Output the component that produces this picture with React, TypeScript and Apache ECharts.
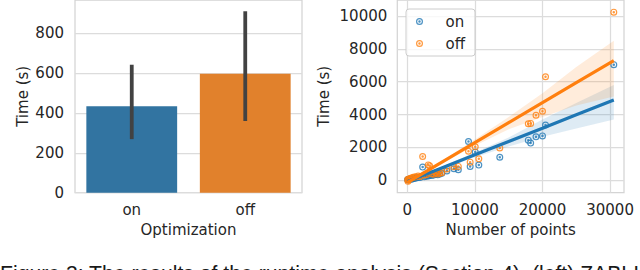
import React, { useEffect, useRef } from 'react';
import * as echarts from 'echarts';

// ---- left panel: bar chart ----
const categories = ['on', 'off'];
const meanTime = [433, 596];
const ciLow = [278, 369];
const ciHigh = [632, 900];
const barColors = ['#3274a1', '#e1812c'];
const leftYTicks = [0, 200, 400, 600, 800];

// ---- right panel: scatter with regression ----
const pointsX = [50, 100, 150, 250, 400, 600, 800, 1000, 1300, 1600, 1900, 2270, 2500, 2800, 3100, 3300, 3600, 3900, 4200, 4500, 4800, 5100, 5850, 6900, 7550, 9050, 9300, 10050, 10580, 13680, 17900, 18250, 19040, 20000, 20450, 30550];
const onTime = [20, 40, 30, 50, 70, 60, 90, 110, 130, 160, 170, 800, 210, 240, 260, 300, 280, 320, 350, 330, 380, 420, 560, 700, 640, 2360, 840, 1720, 920, 1400, 2440, 2260, 2640, 2700, 3360, 7040];
const offTime = [40, -60, 20, 80, 110, 130, 160, 190, 210, 260, 230, 1440, 310, 330, 930, 880, 400, 360, 440, 380, 420, 460, 680, 820, 840, 1760, 1100, 2040, 1300, 1960, 3440, 3460, 3960, 4200, 6300, 10240];

const fitX = [50, 5000, 10000, 15000, 20000, 25000, 30550];
const fitOn = [-72, 733, 1545, 2358, 3170, 3983, 4884];
const fitOnLow = [-180, 670, 1400, 2050, 2650, 3150, 3700];
const fitOnHigh = [30, 800, 1680, 2600, 3700, 4700, 5800];
const fitOff = [-138, 1068, 2285, 3503, 4720, 5938, 7290];
const fitOffLow = [-330, 980, 2100, 3100, 3850, 4550, 5100];
const fitOffHigh = [20, 1160, 2480, 3850, 5300, 6900, 8500];

const rightXTicks = [0, 10000, 20000, 30000];
const rightYTicks = [0, 2000, 4000, 6000, 8000, 10000];

const seriesNames = ['on', 'off'];
const seriesColors = ['#1f77b4', '#ff7f0e'];
const caption = 'Figure 3: The results of the runtime analysis (Section 4). (left) ZABLI';

const RING =
  'path://M0,-10A10,10,0,1,1,0,10A10,10,0,1,1,0,-10ZM0,-6.6A6.6,6.6,0,1,0,0,6.6A6.6,6.6,0,1,0,0,-6.6ZM0,-3.6A3.6,3.6,0,1,1,0,3.6A3.6,3.6,0,1,1,0,-3.6Z';

const FONT = 'DejaVu Sans';
const TXT = '#262626';
const GRIDC = '#dcdcdc';

function bandSeries(name: string, low: number[], high: number[], color: string) {
  return {
    type: 'custom',
    name: name + '-band',
    xAxisIndex: 1,
    yAxisIndex: 1,
    clip: true,
    silent: true,
    z: 1,
    data: fitX.map((x, i) => [x, low[i], high[i]]),
    encode: { x: 0, y: [1, 2] },
    renderItem: (params: any, api: any) => {
      if (params.dataIndex !== 0) return null;
      const up = fitX.map((x, i) => api.coord([x, high[i]]));
      const dn = fitX.map((x, i) => api.coord([x, low[i]])).reverse();
      return {
        type: 'polygon',
        shape: { points: up.concat(dn) },
        style: { fill: color, opacity: 0.15 },
      };
    },
  };
}

const plain = (v: number) => String(v);

export default function App() {
  const ref = useRef<HTMLDivElement>(null);
  useEffect(() => {
    if (!ref.current) return;
    const chart = echarts.init(ref.current, undefined, { renderer: 'svg' });
    const labelStyle = { color: TXT, fontSize: 15, fontFamily: FONT };
    const option: any = {
      animation: false,
      backgroundColor: '#ffffff',
      textStyle: { fontFamily: FONT },
      grid: [
        { left: 75, top: -3, width: 227, height: 195.7, show: true, borderColor: '#d4d4d4', borderWidth: 1.25, backgroundColor: 'transparent' },
        { left: 397.3, top: -3, width: 226.7, height: 195.7, show: true, borderColor: '#d4d4d4', borderWidth: 1.25, backgroundColor: 'transparent' },
      ],
      xAxis: [
        {
          type: 'category',
          gridIndex: 0,
          data: categories,
          axisLine: { show: false },
          axisTick: { show: false },
          axisLabel: { ...labelStyle, margin: 10 },
          splitLine: { show: false },
          name: 'Optimization',
          nameLocation: 'middle',
          nameGap: 29,
          nameTextStyle: labelStyle,
        },
        {
          type: 'value',
          gridIndex: 1,
          min: -1480,
          max: 32060,
          axisLine: { show: false },
          axisTick: { show: false, customValues: rightXTicks },
          axisLabel: { ...labelStyle, margin: 10, customValues: rightXTicks, formatter: plain },
          splitLine: { show: true, lineStyle: { color: GRIDC, width: 1.25 } },
          name: 'Number of points',
          nameLocation: 'middle',
          nameGap: 29,
          nameTextStyle: labelStyle,
        },
      ],
      yAxis: [
        {
          type: 'value',
          gridIndex: 0,
          min: 0,
          max: 966,
          interval: 200,
          axisLine: { show: false },
          axisTick: { show: false, customValues: leftYTicks },
          axisLabel: { ...labelStyle, margin: 11, customValues: leftYTicks, formatter: plain },
          splitLine: { show: true, lineStyle: { color: GRIDC, width: 1.25 } },
          name: 'Time (s)',
          nameLocation: 'middle',
          nameGap: 45,
          nameTextStyle: labelStyle,
        },
        {
          type: 'value',
          gridIndex: 1,
          min: -762,
          max: 10980,
          axisLine: { show: false },
          axisTick: { show: false, customValues: rightYTicks },
          axisLabel: { ...labelStyle, margin: 10, customValues: rightYTicks, formatter: plain },
          splitLine: { show: true, lineStyle: { color: GRIDC, width: 1.25 } },
          name: 'Time (s)',
          nameLocation: 'middle',
          nameGap: 66,
          nameTextStyle: labelStyle,
        },
      ],
      legend: {
        left: 406,
        top: 9,
        orient: 'vertical',
        padding: [5, 10, 5, 10],
        itemGap: 7,
        itemWidth: 20,
        itemHeight: 7,
        symbolKeepAspect: true,
        backgroundColor: 'rgba(255,255,255,0.8)',
        borderColor: '#cccccc',
        borderWidth: 1,
        borderRadius: 3,
        data: seriesNames.map((n) => ({ name: n, icon: RING })),
        textStyle: { ...labelStyle, lineHeight: 15, padding: [0, 0, 0, 11] },
        selectedMode: false,
      },
      graphic: [
        {
          type: 'text',
          left: 0,
          top: 262.5,
          style: { text: caption, fontSize: 21.2, fontFamily: 'Liberation Sans', fill: '#1a1a1a' },
          silent: true,
        },
      ],
      series: [
        {
          type: 'bar',
          name: 'bars',
          xAxisIndex: 0,
          yAxisIndex: 0,
          barCategoryGap: '20%',
          data: meanTime.map((v, i) => ({ value: v, itemStyle: { color: barColors[i] } })),
          z: 2,
        },
        {
          type: 'custom',
          name: 'errbars',
          xAxisIndex: 0,
          yAxisIndex: 0,
          z: 3,
          data: categories.map((c, i) => [i, ciLow[i], ciHigh[i]]),
          encode: { x: 0, y: [1, 2] },
          renderItem: (params: any, api: any) => {
            const a = api.coord([api.value(0), api.value(1)]);
            const b = api.coord([api.value(0), api.value(2)]);
            return {
              type: 'line',
              shape: { x1: a[0], y1: a[1], x2: b[0], y2: b[1] },
              style: { stroke: '#424242', lineWidth: 3.8, lineCap: 'square' },
            };
          },
        },
        {
          type: 'scatter',
          name: seriesNames[0],
          xAxisIndex: 1,
          yAxisIndex: 1,
          symbol: RING,
          symbolSize: 7,
          symbolKeepAspect: true,
          z: 2,
          itemStyle: { color: seriesColors[0], opacity: 0.8 },
          data: pointsX.map((x, i) => [x, onTime[i]]),
        },
        bandSeries('on', fitOnLow, fitOnHigh, seriesColors[0]),
        {
          type: 'scatter',
          name: seriesNames[1],
          xAxisIndex: 1,
          yAxisIndex: 1,
          symbol: RING,
          symbolSize: 7,
          symbolKeepAspect: true,
          z: 2,
          itemStyle: { color: seriesColors[1], opacity: 0.8 },
          data: pointsX.map((x, i) => [x, offTime[i]]),
        },
        bandSeries('off', fitOffLow, fitOffHigh, seriesColors[1]),
        {
          type: 'line',
          name: 'on-fit',
          xAxisIndex: 1,
          yAxisIndex: 1,
          showSymbol: false,
          z: 4,
          silent: true,
          lineStyle: { color: seriesColors[0], width: 3.2 },
          data: fitX.map((x, i) => [x, fitOn[i]]),
        },
        {
          type: 'line',
          name: 'off-fit',
          xAxisIndex: 1,
          yAxisIndex: 1,
          showSymbol: false,
          z: 5,
          silent: true,
          lineStyle: { color: seriesColors[1], width: 3.2 },
          data: fitX.map((x, i) => [x, fitOff[i]]),
        },
      ],
    };
    chart.setOption(option);
    return () => chart.dispose();
  }, []);
  return (
    <div
      ref={ref}
      style={{ position: 'absolute', left: 0, top: 0, width: 640, height: 270 }}
    />
  );
}
